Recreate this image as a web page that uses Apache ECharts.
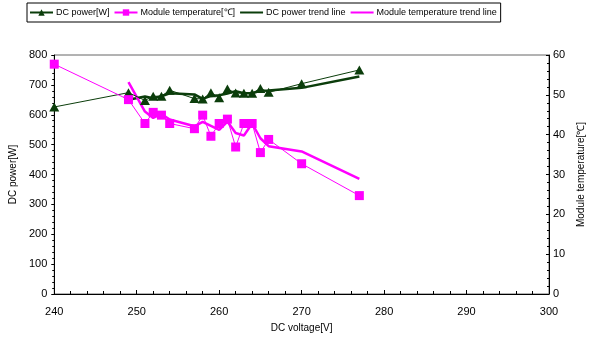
<!DOCTYPE html>
<html>
<head>
<meta charset="utf-8">
<script src="https://cdn.jsdelivr.net/npm/echarts@6/dist/echarts.min.js"></script>
<style>
html,body{margin:0;padding:0;background:#fff;}
#c{width:595px;height:344px;}
</style>
</head>
<body>
<div id="c"></div>
<script>
// ---- data ----
const voltage = [240, 249, 251, 252, 253, 254, 257, 258, 259, 260, 261, 262, 263, 264, 265, 266, 270, 277];
const dcPower = [626, 674, 648, 662, 662, 682, 654, 653, 674, 657, 686, 673, 672, 672, 688, 675, 704, 750];
const moduleTemp = [57.7, 48.8, 42.8, 45.6, 44.9, 42.8, 41.5, 44.9, 39.6, 42.8, 43.9, 36.9, 42.8, 42.8, 35.5, 38.8, 32.7, 24.7];

const trendVoltage = [249, 251, 252, 253, 254, 257, 258, 259, 260, 261, 262, 263, 264, 265, 266, 270, 277];
const powerTrend = [650, 661, 655, 662, 672, 668, 653, 663, 665, 671, 679, 672, 672, 680, 681, 690, 728];
const tempTrend = [53.2, 45.8, 44.2, 45.2, 43.8, 42.1, 43.2, 42.2, 41.2, 43.3, 40.4, 39.8, 42.8, 39.1, 37.1, 35.8, 28.9];

const seriesNames = ['DC power[W]', 'Module temperature[℃]', 'DC power trend line', 'Module temperature trend line'];
const xName = 'DC voltage[V]';
const yLeftName = 'DC power[W]';
const yRightName = 'Module temperature[℃]';

const GREEN = '#0b3d0b';
const MAGENTA = '#ff00ff';
const REG = '"Liberation Sans", Arial, sans-serif';

const zip = (xs, ys) => xs.map((x, i) => [x, ys[i]]);

const chart = echarts.init(document.getElementById('c'), null, {renderer: 'canvas'});
chart.setOption({
  animation: false,
  backgroundColor: '#fff',
  legend: {
    left: 27, top: 3,
    padding: [5, 4, 5, 2],
    borderColor: '#000', borderWidth: 1,
    itemWidth: 23, itemHeight: 8, itemGap: 4,
    textStyle: {fontFamily: REG, fontSize: 9, color: '#000', padding: [0, 0, 0, -2]},
    data: seriesNames
  },
  grid: {left: 52, right: 46, top: 55, bottom: 50, show: true, borderColor: '#666', borderWidth: 1, backgroundColor: 'transparent'},
  xAxis: {
    type: 'value', min: 240, max: 300, interval: 10,
    name: xName, nameLocation: 'middle', nameGap: 29,
    nameTextStyle: {fontFamily: REG, fontSize: 10, color: '#000'},
    axisLine: {show: true, onZero: false, lineStyle: {color: '#000', width: 1}},
    axisTick: {show: true, inside: true, length: 4, lineStyle: {color: '#000'}},
    minorTick: {show: true, splitNumber: 5, length: 3, lineStyle: {color: '#000'}},
    axisLabel: {fontFamily: REG, fontSize: 11, color: '#000', margin: 12},
    splitLine: {show: false}
  },
  yAxis: [{
    type: 'value', min: 0, max: 800, interval: 100, position: 'left',
    name: yLeftName, nameLocation: 'middle', nameGap: 36,
    nameTextStyle: {fontFamily: REG, fontSize: 10, color: '#000'},
    axisLine: {show: true, lineStyle: {color: '#000', width: 1}},
    axisTick: {show: true, inside: false, length: 3, lineStyle: {color: '#000'}},
    minorTick: {show: true, splitNumber: 5, length: 2, lineStyle: {color: '#000'}},
    axisLabel: {fontFamily: REG, fontSize: 11, color: '#000', margin: 7},
    splitLine: {show: false}
  }, {
    type: 'value', min: 0, max: 60, interval: 10, position: 'right',
    name: yRightName, nameLocation: 'middle', nameGap: 22, nameRotate: 90,
    nameTextStyle: {fontFamily: REG, fontSize: 10, color: '#000'},
    axisLine: {show: true, lineStyle: {color: '#000', width: 1}},
    axisTick: {show: true, inside: true, length: 3, lineStyle: {color: '#000'}},
    minorTick: {show: true, splitNumber: 5, length: 2, lineStyle: {color: '#000'}},
    axisLabel: {fontFamily: REG, fontSize: 11, color: '#000', margin: 4},
    splitLine: {show: false}
  }],
  series: [{
    name: seriesNames[0], type: 'line', yAxisIndex: 0,
    data: zip(voltage, dcPower),
    symbol: 'triangle', symbolSize: [10, 9], z: 5,
    itemStyle: {color: GREEN},
    lineStyle: {color: GREEN, width: 1}
  }, {
    name: seriesNames[1], type: 'line', yAxisIndex: 1,
    data: zip(voltage, moduleTemp),
    symbol: 'rect', symbolSize: 9, z: 5,
    itemStyle: {color: MAGENTA},
    lineStyle: {color: MAGENTA, width: 1}
  }, {
    name: seriesNames[2], type: 'line', yAxisIndex: 0,
    data: zip(trendVoltage, powerTrend),
    symbol: 'line', showSymbol: false, smooth: false, z: 3,
    itemStyle: {color: GREEN},
    lineStyle: {color: GREEN, width: 2.5}
  }, {
    name: seriesNames[3], type: 'line', yAxisIndex: 1,
    data: zip(trendVoltage, tempTrend),
    symbol: 'line', showSymbol: false, smooth: false, z: 3,
    itemStyle: {color: MAGENTA},
    lineStyle: {color: MAGENTA, width: 2.5}
  }]
});
</script>
</body>
</html>
